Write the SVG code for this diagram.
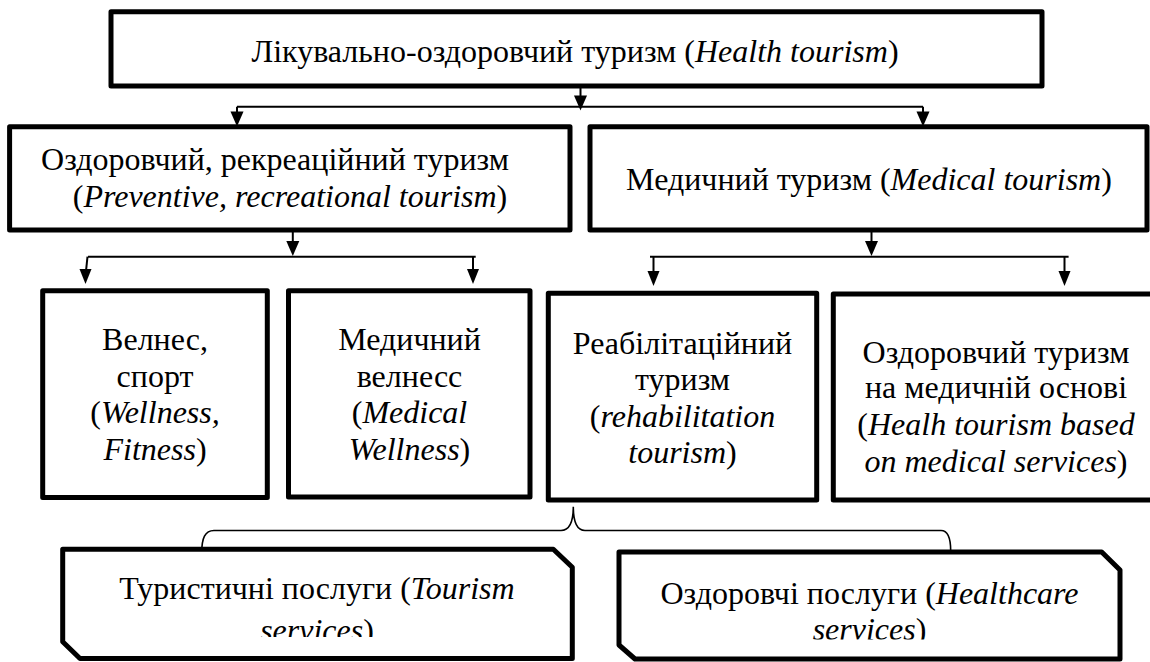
<svg xmlns="http://www.w3.org/2000/svg" xmlns:xlink="http://www.w3.org/1999/xlink" width="1150" height="662" viewBox="0 0 1150 662">
<style>
.box{fill:#fff;stroke:#000;stroke-width:5;stroke-linejoin:round}
text{font-family:'Liberation Serif','DejaVu Serif',serif;font-size:32px;fill:#000;text-anchor:middle}
.i{font-style:italic}
.ln{stroke:#000;stroke-width:2;fill:none}
.brace{stroke:#000;stroke-width:1.6;fill:none}
.ah{fill:#000}
</style>
<defs>
<path id="ah" class="ah" d="M-6.5,-15 L6.5,-15 L0,0 Z"/>
<path id="ah2" class="ah" d="M-6,-15 L6,-15 L0,0 Z"/>
<clipPath id="clipL"><rect x="60" y="540" width="520" height="97"/></clipPath>
<clipPath id="clipR"><rect x="615" y="540" width="510" height="99.5"/></clipPath>
</defs>
<rect width="1150" height="662" fill="#fff"/>

<g id="connectors">
<line class="ln" x1="580.5" y1="86" x2="580.5" y2="96"/>
<use xlink:href="#ah" x="580.5" y="110.5"/>
<line class="ln" x1="237" y1="106.7" x2="923" y2="106.7"/>
<line class="ln" x1="237" y1="106.7" x2="237" y2="113"/>
<use xlink:href="#ah" x="237" y="126.5"/>
<line class="ln" x1="923" y1="106.7" x2="923" y2="113"/>
<use xlink:href="#ah" x="923" y="126.5"/>
<line class="ln" x1="292.8" y1="230" x2="292.8" y2="241"/>
<use xlink:href="#ah" x="292.8" y="256"/>
<line class="ln" x1="88" y1="256.7" x2="475.7" y2="256.7"/>
<line class="ln" x1="87.5" y1="256.7" x2="86" y2="271"/>
<use xlink:href="#ah2" x="85.5" y="284"/>
<line class="ln" x1="473" y1="256.7" x2="473" y2="271"/>
<use xlink:href="#ah2" x="473" y="284"/>
<line class="ln" x1="871.5" y1="230" x2="871.5" y2="241"/>
<use xlink:href="#ah" x="871.5" y="256"/>
<line class="ln" x1="650" y1="256.7" x2="1068.6" y2="256.7"/>
<line class="ln" x1="653.5" y1="256.7" x2="653.5" y2="272"/>
<use xlink:href="#ah2" x="653.5" y="286"/>
<line class="ln" x1="1064.5" y1="256.7" x2="1064.5" y2="272"/>
<use xlink:href="#ah2" x="1064.5" y="286"/>
<path class="brace" d="M201.7,553 C201.7,538 205,530.5 214,530.5 L561,530.5 C569,530.5 573.3,522 573.3,506.7 C573.3,522 577.5,530.5 585,530.5 L941,530.5 C948,530.5 950.7,538 950.7,551"/>
</g>

<g id="node-health">
<rect class="box" x="111" y="11.7" width="931" height="74.3"/>
<text x="575" y="61.7">Лікувально-оздоровчий туризм (<tspan class="i">Health tourism</tspan>)</text>
</g>

<g id="node-preventive">
<rect class="box" x="9.6" y="126.7" width="560.4" height="103.3"/>
<text x="275" y="170">Оздоровчий, рекреаційний туризм</text>
<text x="290" y="206.7">(<tspan class="i">Preventive, recreational tourism</tspan>)</text>
</g>

<g id="node-medical">
<rect class="box" x="590" y="126.7" width="557" height="103.3"/>
<text x="869" y="190">Медичний туризм (<tspan class="i">Medical tourism</tspan>)</text>
</g>

<g id="node-wellness">
<rect class="box" x="42.7" y="290.7" width="224.6" height="206.8"/>
<text x="155" y="350">Велнес,</text>
<text x="155" y="386.7">спорт</text>
<text x="155" y="423.3">(<tspan class="i">Wellness,</tspan></text>
<text x="155" y="460"><tspan class="i">Fitness</tspan>)</text>
</g>

<g id="node-medwellness">
<rect class="box" x="288.5" y="290.7" width="241.5" height="206.3"/>
<text x="409.5" y="350">Медичний</text>
<text x="409.5" y="386.7">велнесс</text>
<text x="409.5" y="423.3">(<tspan class="i">Medical</tspan></text>
<text x="409.5" y="460"><tspan class="i">Wellness</tspan>)</text>
</g>

<g id="node-rehab">
<rect class="box" x="548.3" y="293.3" width="268.4" height="206.7"/>
<text x="682.5" y="354">Реабілітаційний</text>
<text x="682.5" y="390">туризм</text>
<text x="682.5" y="426.7">(<tspan class="i">rehabilitation</tspan></text>
<text x="682.5" y="463.3"><tspan class="i">tourism</tspan>)</text>
</g>

<g id="node-healthmed">
<rect class="box" x="833.3" y="294" width="325" height="206"/>
<text x="996" y="363.3">Оздоровчий туризм</text>
<text x="996" y="398.3">на медичній основі</text>
<text x="996" y="435">(<tspan class="i">Healh tourism based</tspan></text>
<text x="996" y="471.7"><tspan class="i">on medical services</tspan>)</text>
</g>

<g id="node-tourism-services">
<path class="box" d="M62.7,549.3 L553.3,549.3 L572.3,567.3 L572.3,658.5 L80,658.5 L62.7,641.7 Z"/>
<text x="317" y="599">Туристичні послуги (<tspan class="i">Tourism</tspan></text>
<text x="317" y="641" clip-path="url(#clipL)"><tspan class="i">services</tspan>)</text>
</g>

<g id="node-healthcare-services">
<path class="box" d="M619,552 L1101.7,552 L1120,570 L1120,659 L635,659 L619,645 Z"/>
<text x="869.5" y="604">Оздоровчі послуги (<tspan class="i">Healthcare</tspan></text>
<text x="869.5" y="640" clip-path="url(#clipR)"><tspan class="i">services</tspan>)</text>
</g>
</svg>
